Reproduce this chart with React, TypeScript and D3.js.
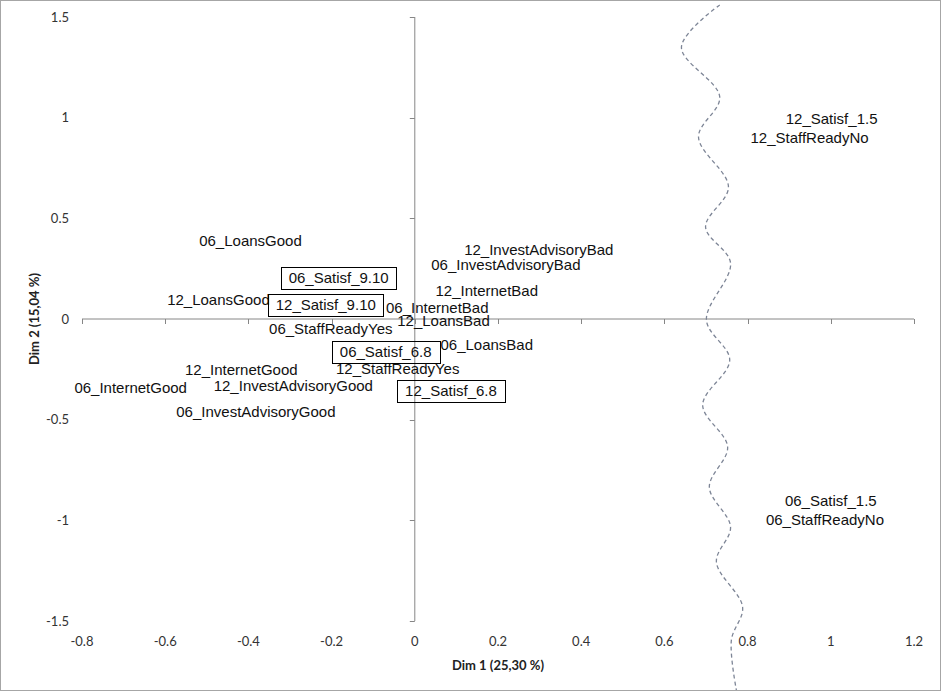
import React from "react";
import * as d3 from "d3";

const labels = [
  "12_Satisf_1.5", "12_StaffReadyNo", "06_LoansGood", "12_InvestAdvisoryBad",
  "06_InvestAdvisoryBad", "06_Satisf_9.10", "12_InternetBad", "12_LoansGood",
  "12_Satisf_9.10", "06_InternetBad", "12_LoansBad", "06_StaffReadyYes",
  "06_Satisf_6.8", "06_LoansBad", "12_InternetGood", "12_StaffReadyYes",
  "12_Satisf_6.8", "06_InternetGood", "12_InvestAdvisoryGood", "06_InvestAdvisoryGood",
  "06_Satisf_1.5", "06_StaffReadyNo",
];
const dim1 = [
  1.002, 0.949, -0.395, 0.298, 0.219, -0.183, 0.173, -0.472, -0.214, 0.054, 0.069,
  -0.202, -0.07, 0.173, -0.417, -0.041, 0.087, -0.683, -0.292, -0.382, 1.0, 0.986,
];
const dim2 = [
  0.996, 0.901, 0.387, 0.343, 0.268, 0.204, 0.139, 0.094, 0.07, 0.057, -0.01,
  -0.05, -0.162, -0.127, -0.253, -0.248, -0.358, -0.343, -0.33, -0.459, -0.904, -0.998,
];
const boxed = ["06_Satisf_9.10", "12_Satisf_9.10", "06_Satisf_6.8", "12_Satisf_6.8"];

const xTicks = [-0.8, -0.6, -0.4, -0.2, 0, 0.2, 0.4, 0.6, 0.8, 1, 1.2];
const yTicks = [1.5, 1, 0.5, 0, -0.5, -1, -1.5];

// hand-drawn separating curve (dim1, dim2)
const curveX = [0.733, 0.641, 0.733, 0.682, 0.754, 0.699, 0.759, 0.701, 0.757, 0.692, 0.752, 0.708, 0.759, 0.725, 0.788, 0.761, 0.773];
const curveY = [1.56, 1.351, 1.103, 0.904, 0.656, 0.457, 0.278, -0.005, -0.204, -0.427, -0.636, -0.835, -1.033, -1.207, -1.431, -1.595, -1.843];

const W = 942;
const H = 693;

export default function App() {
  const x = d3.scaleLinear().domain([-0.8, 1.2]).range([82, 914]);
  const y = d3.scaleLinear().domain([-1.5, 1.5]).range([621, 17]);
  const x0 = x(0);
  const y0 = y(0);
  const fmt = (v: number) => String(v);

  const pts: [number, number][] = curveX.map((v, i) => [v, curveY[i]]);
  const wave = d3
    .line<[number, number]>()
    .x((d) => x(d[0]))
    .y((d) => y(d[1]))
    .curve(d3.curveCatmullRom.alpha(0.5))(pts);

  const labelFont = "'Liberation Sans', Arial, sans-serif";
  const tickFont = "Lato, 'Open Sans', sans-serif";

  return (
    <div style={{ position: "absolute", left: 0, top: 0 }}>
      <svg width={W} height={H} style={{ display: "block", background: "#fff" }}>
        <rect x={0.5} y={0.5} width={940} height={690} fill="#fff" stroke="#a6a6a6" />
        <defs>
          <clipPath id="clip">
            <rect x={1} y={1} width={939} height={689} />
          </clipPath>
        </defs>
        {/* axes */}
        <line x1={x(-0.8)} x2={x(1.2)} y1={y0} y2={y0} stroke="#868686" />
        <line x1={x0} x2={x0} y1={y(1.5)} y2={y(-1.5)} stroke="#868686" />
        {xTicks.map((t) => (
          <line key={"xt" + t} x1={Math.round(x(t)) + 0.5} x2={Math.round(x(t)) + 0.5} y1={y0} y2={y0 + 5} stroke="#868686" />
        ))}
        {yTicks.map((t) => (
          <line key={"yt" + t} x1={x0 - 5} x2={x0} y1={Math.round(y(t)) + 0.5} y2={Math.round(y(t)) + 0.5} stroke="#868686" />
        ))}
        {xTicks.map((t) => (
          <text key={"xl" + t} x={x(t)} y={641} dy="0.35em" textAnchor="middle" fontFamily={tickFont} fontSize={13} fill="#333">
            {fmt(t)}
          </text>
        ))}
        {yTicks.map((t) => (
          <text key={"yl" + t} x={69} y={y(t)} dy="0.35em" textAnchor="end" fontFamily={tickFont} fontSize={13} fill="#333">
            {fmt(t)}
          </text>
        ))}
        <text x={498} y={665} dy="0.35em" textAnchor="middle" fontFamily={tickFont} fontSize={13} fontWeight="bold" fill="#222">
          Dim 1 (25,30 %)
        </text>
        <text
          transform={`translate(34,${y0}) rotate(-90)`}
          dy="0.35em"
          textAnchor="middle"
          fontFamily={tickFont}
          fontSize={13}
          fontWeight="bold"
          fill="#222"
        >
          Dim 2 (15,04 %)
        </text>
        {/* labels */}
        {labels.map((l, i) => {
          const cx = x(dim1[i]);
          const cy = y(dim2[i]);
          const isBox = boxed.includes(l);
          const tw = l.length * 7.2;
          return (
            <g key={l}>
              {isBox && (
                <rect
                  x={Math.round(cx - tw / 2 - 7) + 0.5}
                  y={Math.round(cy - 11) + 0.5}
                  width={Math.round(tw + 14)}
                  height={22}
                  fill="none"
                  stroke="#000"
                />
              )}
              <text x={cx} y={cy} dy="0.36em" textAnchor="middle" fontFamily={labelFont} fontSize={15} fill="#111">
                {l}
              </text>
            </g>
          );
        })}
        <path
          d={wave || ""}
          fill="none"
          stroke="#7d8596"
          strokeWidth={1.3}
          strokeDasharray="4,3"
          clipPath="url(#clip)"
        />
      </svg>
    </div>
  );
}
